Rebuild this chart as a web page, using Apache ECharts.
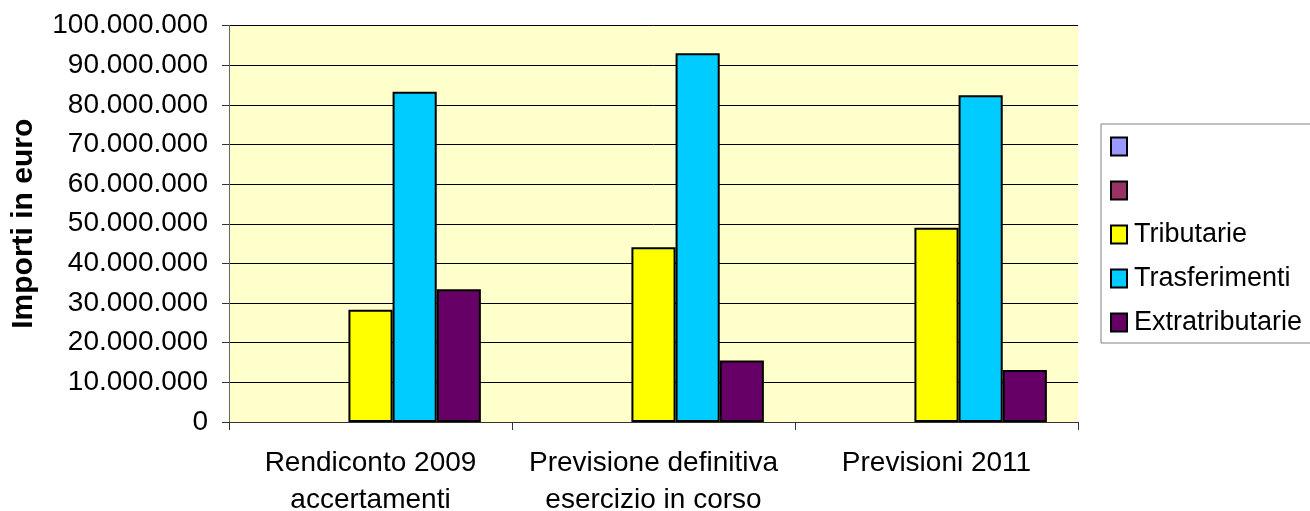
<!DOCTYPE html>
<html>
<head>
<meta charset="utf-8">
<title>Entrate</title>
<script src="https://cdn.jsdelivr.net/npm/echarts@6/dist/echarts.min.js"></script>
<style>
  html, body { margin: 0; padding: 0; background: #ffffff; }
  #chart { width: 1310px; height: 511px; }
</style>
</head>
<body>
<div id="chart"></div>
<script>
// Categories on the x axis
const categories = [
  'Rendiconto 2009\naccertamenti',
  'Previsione definitiva\nesercizio in corso',
  'Previsioni 2011'
];

// Series names (the first two series have no label and no values)
const seriesNames = [' ', '  ', 'Tributarie', 'Trasferimenti', 'Extratributarie'];
const seriesColors = ['#9999FF', '#993366', '#FFFF00', '#00CCFF', '#660066'];

// Values in euro
const emptyA = [null, null, null];
const emptyB = [null, null, null];
const tributarie = [28300000, 44100000, 49000000];
const trasferimenti = [83300000, 93000000, 82400000];
const extratributarie = [33500000, 15500000, 13100000];

const seriesValues = [emptyA, emptyB, tributarie, trasferimenti, extratributarie];

// y axis range
const yMin = 0;
const yMax = 100000000;
const yStep = 10000000;

const FONT = 'Liberation Sans, Arial, sans-serif';

function formatEuro(v) {
  return String(Math.round(v)).replace(/\B(?=(\d{3})+(?!\d))/g, '.');
}

const chart = echarts.init(document.getElementById('chart'), null, { renderer: 'canvas' });

chart.setOption({
  backgroundColor: '#ffffff',
  animation: false,
  textStyle: { fontFamily: FONT, color: '#000' },
  grid: {
    left: 229,
    right: 232,
    top: 25.5,
    bottom: 89,
    containLabel: false,
    outerBoundsMode: 'none',
    show: true,
    backgroundColor: '#FFFFCC',
    borderWidth: 0
  },
  legend: {
    orient: 'vertical',
    left: 1101,
    top: 124,
    padding: [9, 40, 7, 9],
    itemGap: 17,
    itemWidth: 16,
    itemHeight: 18,
    borderColor: '#808080',
    borderWidth: 1,
    icon: 'rect',
    data: seriesNames,
    textStyle: { fontFamily: FONT, fontSize: 27, lineHeight: 26, color: '#000', padding: [0, 0, 0, 2] },
    selectedMode: false
  },
  xAxis: {
    type: 'category',
    data: categories,
    boundaryGap: true,
    axisLine: { show: true, lineStyle: { color: '#333', width: 1 } },
    axisTick: { show: true, length: 8, alignWithLabel: false, lineStyle: { color: '#333' } },
    axisLabel: {
      fontFamily: FONT,
      fontSize: 28,
      lineHeight: 37,
      color: '#000',
      margin: 23,
      interval: 0
    },
    splitLine: { show: false }
  },
  yAxis: {
    type: 'value',
    min: yMin,
    max: yMax,
    interval: yStep,
    name: 'Importi in euro',
    nameLocation: 'middle',
    nameRotate: 90,
    nameGap: 190,
    nameTextStyle: { fontFamily: FONT, fontSize: 30, fontWeight: 'bold', color: '#000' },
    axisLine: { show: true, lineStyle: { color: '#666', width: 1 } },
    axisTick: { show: true, inside: false, length: 7, lineStyle: { color: '#333' } },
    axisLabel: {
      fontFamily: FONT,
      fontSize: 28,
      color: '#000',
      margin: 21,
      formatter: formatEuro
    },
    splitLine: { show: true, lineStyle: { color: '#000', width: 1 } }
  },
  series: seriesNames.map((name, i) => ({
    name: name,
    type: 'bar',
    data: seriesValues[i],
    barGap: '0%',
    barCategoryGap: '22%',
    itemStyle: {
      color: seriesColors[i],
      borderColor: '#000',
      borderWidth: 2
    },
    emphasis: { disabled: true }
  }))
});
</script>
</body>
</html>
